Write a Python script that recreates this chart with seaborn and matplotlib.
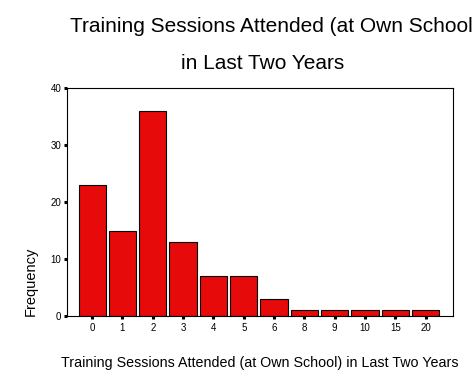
import pandas as pd
import seaborn as sns
import matplotlib.pyplot as plt

sessions = ['0', '1', '2', '3', '4', '5', '6', '8', '9', '10', '15', '20']
frequency = [23, 15, 36, 13, 7, 7, 3, 1, 1, 1, 1, 1]

sns.set_style("white")
plt.rcParams['font.family'] = ['Liberation Sans', 'DejaVu Sans']
plt.rcParams['text.color'] = 'black'
plt.rcParams['axes.labelcolor'] = 'black'
plt.rcParams['xtick.color'] = 'black'
plt.rcParams['ytick.color'] = 'black'

df = pd.DataFrame({'sessions': sessions, 'Frequency': frequency})

fig = plt.figure(figsize=(4.73, 3.79), dpi=100)
ax = fig.add_axes([67 / 473, 1 - 316 / 379, (453 - 67) / 473, (316 - 88) / 379])
sns.barplot(data=df, x='sessions', y='Frequency', color='#e60a0a', saturation=1,
            edgecolor='black', linewidth=0.8, width=0.9, ax=ax)

ax.set_xlim(-0.83, 11.9)
ax.set_ylim(0, 40)
ax.set_yticks([0, 10, 20, 30, 40])
for s in ax.spines.values():
    s.set_visible(True)
    s.set_color('black')
    s.set_linewidth(0.8)
ax.tick_params(axis='both', direction='out', length=2.2, width=2.2, color='black',
               labelsize=7, pad=3, bottom=True, left=True)
ax.tick_params(axis='y', pad=2)

ax.set_xlabel('Training Sessions Attended (at Own School) in Last Two Years', fontsize=10.25)
ax.xaxis.set_label_coords(0.5, -0.175)
ax.set_ylabel('Frequency', fontsize=10.5)
ax.yaxis.set_label_coords(-0.075, 0.15)

fig.text(271 / 473, 1 - 32 / 379, 'Training Sessions Attended (at Own School',
         ha='center', va='baseline', fontsize=15)
fig.text(263 / 473, 1 - 69 / 379, 'in Last Two Years',
         ha='center', va='baseline', fontsize=15)

fig.savefig('out.png', dpi=100)
